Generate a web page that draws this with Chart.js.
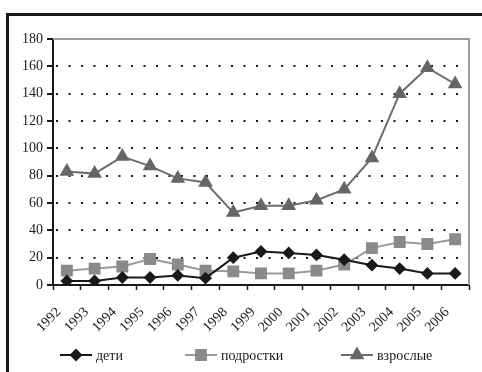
<!DOCTYPE html>
<html>
<head>
<meta charset="utf-8">
<script src="https://cdn.jsdelivr.net/npm/chart.js@4.4.1/dist/chart.umd.min.js"></script>
<style>
  html, body { margin: 0; padding: 0; background: #fff; }
  #wrap { position: relative; width: 482px; height: 372px; overflow: hidden; background: #fff; }
  #frame { position: absolute; left: 6px; top: 13px; width: 600px; height: 600px; border: 3px solid #1a1a1a; box-sizing: border-box; }
  canvas { position: absolute; left: 0; top: 0; }
</style>
</head>
<body>
<div id="wrap">
  <div id="frame"></div>
  <canvas id="c" width="482" height="372"></canvas>
</div>
<script>
// Years on the horizontal axis
const years = ['1992','1993','1994','1995','1996','1997','1998','1999','2000','2001','2002','2003','2004','2005','2006'];

// Series values
const children = [3, 3, 5.5, 5.5, 7, 5, 20, 24.5, 23.5, 22, 18.5, 14.5, 12, 8.5, 8.5];
const teens    = [10.5, 12, 13.5, 19, 15, 10.5, 10, 8.5, 8.5, 10.5, 15, 27, 31.5, 30, 33.5];
const adults   = [83, 81.5, 94, 87, 78, 75, 53, 58, 58, 62, 70, 93, 140, 159, 147];

// Vertical axis ticks
const yTicks = [0, 20, 40, 60, 80, 100, 120, 140, 160, 180];

const serif = "'Liberation Serif', 'Times New Roman', serif";

// Gray frame on the top and right of the plot area
const plotFrame = {
  id: 'plotFrame',
  beforeDatasetsDraw(chart) {
    const { ctx, chartArea: a } = chart;
    ctx.save();
    ctx.strokeStyle = '#9a9a9a';
    ctx.lineWidth = 2;
    ctx.beginPath();
    ctx.moveTo(a.left, a.top);
    ctx.lineTo(a.right, a.top);
    ctx.lineTo(a.right, a.bottom);
    ctx.stroke();
    ctx.restore();
  }
};

// Legend row: line segment with marker, then the series name
const lineLegend = {
  id: 'lineLegend',
  afterDraw(chart) {
    const { ctx } = chart;
    const y = 355;
    const starts = [60, 185, 341];
    ctx.save();
    ctx.font = '14px ' + serif;
    ctx.textBaseline = 'middle';
    chart.data.datasets.forEach((ds, i) => {
      const x = starts[i];
      ctx.strokeStyle = ds.borderColor;
      ctx.lineWidth = 2;
      ctx.beginPath();
      ctx.moveTo(x, y);
      ctx.lineTo(x + 32, y);
      ctx.stroke();
      ctx.fillStyle = ds.pointBackgroundColor;
      ctx.strokeStyle = ds.pointBorderColor;
      Chart.helpers.drawPoint(ctx, {
        pointStyle: ds.pointStyle,
        radius: ds.pointRadius,
        rotation: 0,
        borderWidth: 1
      }, x + 16, y);
      ctx.fillStyle = '#1a1a1a';
      ctx.fillText(ds.label, x + 36, y + 1);
    });
    ctx.restore();
  }
};

new Chart(document.getElementById('c'), {
  type: 'line',
  data: {
    labels: years,
    datasets: [
      {
        label: 'дети',
        data: children,
        borderColor: '#1a1a1a',
        borderWidth: 2,
        pointStyle: 'rectRot',
        pointRadius: 5,
        pointBackgroundColor: '#1a1a1a',
        pointBorderColor: '#1a1a1a',
        tension: 0
      },
      {
        label: 'подростки',
        data: teens,
        borderColor: '#9a9a9a',
        borderWidth: 2,
        pointStyle: 'rect',
        pointRadius: 7,
        pointBackgroundColor: '#8a8a8a',
        pointBorderColor: '#8a8a8a',
        tension: 0
      },
      {
        label: 'взрослые',
        data: adults,
        borderColor: '#6e6e6e',
        borderWidth: 2,
        pointStyle: 'triangle',
        pointRadius: 6.5,
        pointBackgroundColor: '#666666',
        pointBorderColor: '#666666',
        tension: 0
      }
    ]
  },
  options: {
    responsive: false,
    animation: false,
    layout: { padding: { left: 8, top: 39, right: 13, bottom: 40 } },
    plugins: {
      legend: { display: false },
      tooltip: { enabled: false }
    },
    scales: {
      x: {
        offset: true,
        grid: {
          offset: true,
          drawOnChartArea: false,
          drawTicks: true,
          tickLength: 5,
          tickColor: '#1a1a1a',
          tickWidth: 1.5
        },
        border: { display: true, color: '#1a1a1a', width: 2 },
        ticks: {
          color: '#1a1a1a',
          font: { family: serif, size: 14 },
          maxRotation: 45,
          minRotation: 45,
          autoSkip: false,
          padding: 14,
          labelOffset: -8
        },
        afterFit(s) { s.height = 47; }
      },
      y: {
        min: 0,
        max: 180,
        afterBuildTicks(s) { s.ticks = yTicks.map(v => ({ value: v })); },
        grid: {
          color: c => (c.tick && (c.tick.value === 0 || c.tick.value === 180)) ? 'rgba(0,0,0,0)' : '#1a1a1a',
          lineWidth: 2,
          drawTicks: true,
          tickLength: 6,
          tickColor: '#1a1a1a',
          tickWidth: 2,
          tickBorderDash: []
        },
        border: { display: true, color: '#1a1a1a', width: 2, dash: [2, 10.5], dashOffset: -2 },
        ticks: {
          color: '#1a1a1a',
          font: { family: serif, size: 14 },
          padding: 4
        },
        afterFit(s) { s.width = 45; }
      }
    }
  },
  plugins: [plotFrame, lineLegend]
});
</script>
</body>
</html>
